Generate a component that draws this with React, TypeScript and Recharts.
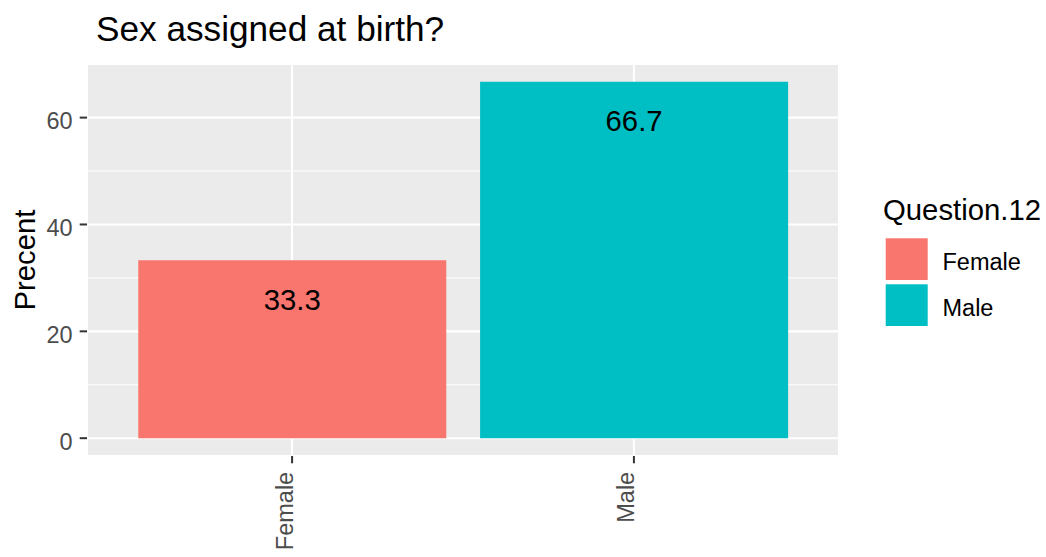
import React from 'react';
import { BarChart, Bar, XAxis, YAxis, CartesianGrid, Cell, LabelList } from 'recharts';

const categories = ['Female', 'Male'];
const percents = [33.3, 66.7];
const barColors = ['#F8766D', '#00BFC4'];
const yTicks = [0, 20, 40, 60];
const yMinorTicks = [10, 30, 50];
const yDomain: [number, number] = [-3.335, 70.035];
const chartTitle = 'Sex assigned at birth?';
const yLabel = 'Precent';
const legendTitle = 'Question.12';

const data = categories.map((c, i) => ({
  category: c,
  value: percents[i],
  label: percents[i].toFixed(1),
}));

const FONT = '"Liberation Sans", Arial, Helvetica, sans-serif';

const YTick = (props: any) => {
  const { x, y, payload } = props;
  return (
    <text x={x} y={y + 11.4} textAnchor="end" fontSize={23.5} fill="#4D4D4D" fontFamily={FONT}>
      {payload.value}
    </text>
  );
};

const XTick = (props: any) => {
  const { x, y, payload } = props;
  const ax = x + 0.5;
  return (
    <text
      x={ax}
      y={y}
      transform={`rotate(-90, ${ax}, ${y})`}
      textAnchor="end"
      fontSize={23.5}
      fill="#4D4D4D"
      fontFamily={FONT}
    >
      {payload.value}
    </text>
  );
};

const BarValueLabel = (props: any) => {
  const { x, y, width, value } = props;
  return (
    <text x={x + width / 2} y={y + 49.5} textAnchor="middle" fontSize={29.3} fill="#000000" fontFamily={FONT}>
      {value}
    </text>
  );
};

export default function App() {
  const legX = 880;
  const legY = 190;
  return (
    <div style={{ position: 'absolute', left: 0, top: 0, width: 1046, height: 557, background: '#FFFFFF' }}>
      <BarChart
        width={1046}
        height={557}
        data={data}
        margin={{ top: 64, right: 207, bottom: 0, left: 0 }}
        barCategoryGap="5%"
      >
        <CartesianGrid fill="#EBEBEB" stroke="#FFFFFF" strokeWidth={2.1} />
        <CartesianGrid stroke="#FFFFFF" strokeWidth={1} vertical={false} yAxisId="minor" />
        <XAxis
          dataKey="category"
          padding={{ left: 34.18, right: 34.18 }}
          height={101}
          axisLine={false}
          tickLine={{ stroke: '#333333', strokeWidth: 2 }}
          tickSize={7.3}
          tickMargin={8.5}
          tick={<XTick />}
          interval={0}
        />
        <YAxis
          type="number"
          domain={yDomain}
          ticks={yTicks}
          allowDataOverflow
          width={87}
          axisLine={false}
          tickLine={{ stroke: '#333333', strokeWidth: 2 }}
          tickSize={7.3}
          tickMargin={7}
          tick={<YTick />}
        />
        <YAxis yAxisId="minor" type="number" domain={yDomain} ticks={yMinorTicks} allowDataOverflow hide />
        <Bar dataKey="value" isAnimationActive={false}>
          {data.map((d, i) => (
            <Cell key={d.category} fill={barColors[i]} />
          ))}
          <LabelList dataKey="label" content={<BarValueLabel />} />
        </Bar>
        <text x={96} y={41} fontSize={35.2} fill="#000000" fontFamily={FONT}>
          {chartTitle}
        </text>
        <text
          x={35}
          y={260}
          transform="rotate(-90, 35, 260)"
          textAnchor="middle"
          fontSize={29.3}
          fill="#000000"
          fontFamily={FONT}
        >
          {yLabel}
        </text>
        <g>
          <text x={legX + 3} y={legY + 30} fontSize={29.3} fill="#000000" fontFamily={FONT}>
            {legendTitle}
          </text>
          {categories.map((c, i) => (
            <g key={c}>
              <rect x={legX + 5.7} y={legY + 48.3 + i * 46} width={42} height={41.7} fill={barColors[i]} />
              <text x={legX + 62.5} y={legY + 80 + i * 46} fontSize={23.5} fill="#000000" fontFamily={FONT}>
                {c}
              </text>
            </g>
          ))}
        </g>
      </BarChart>
    </div>
  );
}
